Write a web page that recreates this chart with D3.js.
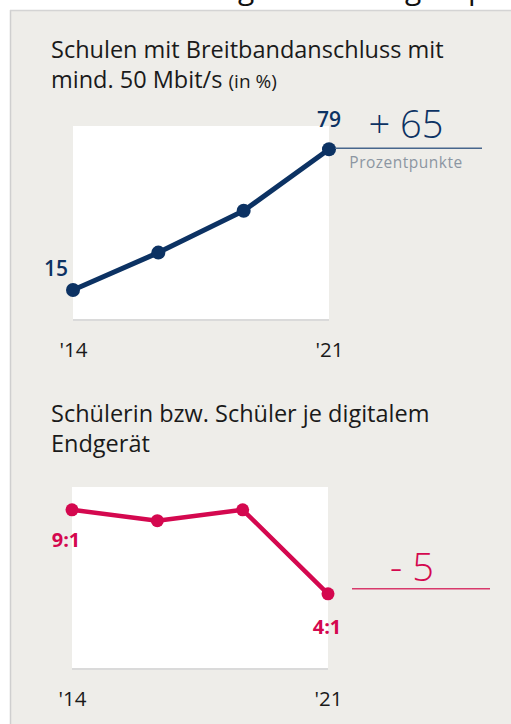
<!DOCTYPE html>
<html>
<head>
<meta charset="utf-8">
<script src="https://cdn.jsdelivr.net/npm/d3@7"></script>
<style>
  html, body { margin: 0; padding: 0; background: #ffffff; }
  svg { display: block; }
  text { font-family: "Open Sans", Lato, sans-serif; }
</style>
</head>
<body>
<svg id="chart" width="511" height="724"></svg>
<script>
// Survey rounds on the x axis (only first and last are labelled)
const categories = ["'14", "'16", "'18", "'21"];
const tickLabels = ["'14", "'21"];

// Panel 1: schools with broadband of at least 50 Mbit/s, in percent
const broadband = [15, 32, 51, 79];
const broadbandLabels = ["15", "", "", "79"];
const broadbandDelta = "+ 65";
const broadbandDeltaUnit = "Prozentpunkte";

// Panel 2: pupils per digital device (x : 1)
const pupilsPerDevice = [9, 8.35, 9, 4];
const pupilsLabels = ["9:1", "", "", "4:1"];
const pupilsDelta = "- 5";

const NAVY = "#0c3263";
const CRIMSON = "#d4084f";
const PANEL_BG = "#eeede9";

const svg = d3.select("#chart");

// Page header running above the panel (only its descenders reach into view)
const header = svg.append("text")
  .attr("x", 0).attr("y", -1)
  .attr("font-size", 30).attr("fill", "#111")
  .text("Deutliche Verbesserung der Leitungskapazität");
{
  const node = header.node();
  const gx = node.getStartPositionOfChar(header.text().indexOf("g")).x;
  header.attr("x", 238 - gx);
}

// Panel background with thin border on top and left
svg.append("rect")
  .attr("x", 11).attr("y", 11).attr("width", 500).attr("height", 713)
  .attr("fill", PANEL_BG);
svg.append("line").attr("x1", 10.5).attr("x2", 10.5).attr("y1", 10).attr("y2", 724)
  .attr("stroke", "#cfcfcf").attr("stroke-width", 1.5);
svg.append("line").attr("x1", 10).attr("x2", 511).attr("y1", 10.5).attr("y2", 10.5)
  .attr("stroke", "#d4d4d4").attr("stroke-width", 1.5);

function drawPanel(opts) {
  const g = svg.append("g");
  const x = d3.scalePoint().domain(categories).range([opts.left, opts.right]);
  const y = d3.scaleLinear().domain(opts.domain).range(opts.range);

  // title
  const t = g.append("g").attr("fill", "#1a1a1a");
  opts.title.forEach((line, i) => {
    const txt = t.append("text")
      .attr("x", 51).attr("y", opts.titleY + i * opts.titleLead)
      .attr("font-size", 23.5);
    txt.append("tspan").text(line[0]);
    if (line[1]) txt.append("tspan").attr("font-size", 19).text(line[1]);
  });

  // white plot area with light baseline
  g.append("rect")
    .attr("x", opts.left).attr("y", opts.top)
    .attr("width", opts.right - opts.left).attr("height", opts.bottom - opts.top)
    .attr("fill", "#ffffff");
  g.append("line")
    .attr("x1", opts.left).attr("x2", opts.right)
    .attr("y1", opts.bottom).attr("y2", opts.bottom)
    .attr("stroke", "#dadada").attr("stroke-width", 2);

  // x axis: first and last round only
  const axis = d3.axisBottom(x)
    .tickValues([categories[0], categories[categories.length - 1]])
    .tickFormat((d, i) => tickLabels[i])
    .tickSize(0).tickPadding(opts.tickPad);
  const ax = g.append("g").attr("transform", `translate(0,${opts.bottom})`).call(axis);
  ax.select(".domain").remove();
  ax.selectAll("text").attr("font-size", 20.5).attr("fill", "#1a1a1a")
    .attr("font-family", "\"Open Sans\", sans-serif");

  // line + markers
  const line = d3.line().x((d, i) => x(categories[i])).y(d => y(d));
  g.append("path").datum(opts.values)
    .attr("d", line).attr("fill", "none")
    .attr("stroke", opts.color).attr("stroke-width", opts.lineW)
    .attr("stroke-linejoin", "round");
  g.selectAll("circle.pt").data(opts.values).join("circle")
    .attr("class", "pt")
    .attr("cx", (d, i) => x(categories[i])).attr("cy", d => y(d))
    .attr("r", opts.dotR).attr("fill", opts.color);

  // value labels on first and last point
  opts.labels.forEach((lab, i) => {
    if (!lab) return;
    const off = opts.labelOffsets[i];
    g.append("text")
      .attr("x", x(categories[i]) + off[0]).attr("y", y(opts.values[i]) + off[1])
      .attr("text-anchor", "middle")
      .attr("font-size", opts.labelSize).attr("font-weight", opts.labelWeight)
      .attr("fill", opts.color)
      .text(lab);
  });

  // change since first round
  const lastY = y(opts.values[opts.values.length - 1]);
  g.append("line")
    .attr("x1", opts.deltaLine[0]).attr("x2", opts.deltaLine[1])
    .attr("y1", lastY + opts.deltaLineDy).attr("y2", lastY + opts.deltaLineDy)
    .attr("stroke", opts.deltaLineColor).attr("stroke-width", 1.5);
  g.append("text")
    .attr("x", opts.deltaX).attr("y", lastY + opts.deltaDy)
    .attr("text-anchor", "middle").attr("font-size", 38).attr("font-weight", 300)
    .attr("font-family", "Lato, sans-serif")
    .attr("fill", opts.color)
    .text(opts.delta);
  if (opts.deltaUnit) {
    g.append("text")
      .attr("x", opts.deltaX).attr("y", lastY + 19)
      .attr("text-anchor", "middle").attr("font-size", 15.5)
      .attr("letter-spacing", 0.5).attr("fill", "#8c96a2")
      .text(opts.deltaUnit);
  }
}

drawPanel({
  title: [["Schulen mit Breitbandanschluss mit"], ["mind. 50 Mbit/s ", "(in %)"]],
  titleY: 58, titleLead: 30,
  left: 73, right: 329, top: 126, bottom: 320,
  domain: [0, 100], range: [323, 103],
  values: broadband, labels: broadbandLabels,
  labelOffsets: [[-17, -14], [0, 0], [0, 0], [0, -22]],
  labelSize: 21, labelWeight: 600,
  color: NAVY, lineW: 5, dotR: 7, tickPad: 22,
  delta: broadbandDelta, deltaUnit: broadbandDeltaUnit,
  deltaX: 406, deltaDy: -11,
  deltaLine: [335, 482], deltaLineDy: -1, deltaLineColor: "#47668c"
});

drawPanel({
  title: [["Schülerin bzw. Schüler je digitalem"], ["Endgerät"]],
  titleY: 422, titleLead: 30,
  left: 72, right: 328, top: 487, bottom: 669,
  domain: [0, 10], range: [661, 493],
  values: pupilsPerDevice, labels: pupilsLabels,
  labelOffsets: [[-6, 37], [0, 0], [0, 0], [-1, 40]],
  labelSize: 20, labelWeight: 700,
  color: CRIMSON, lineW: 4.5, dotR: 6.5, tickPad: 22,
  delta: pupilsDelta,
  deltaX: 412, deltaDy: -13,
  deltaLine: [352, 490], deltaLineDy: -5, deltaLineColor: "#d83a6c"
});
</script>
</body>
</html>
